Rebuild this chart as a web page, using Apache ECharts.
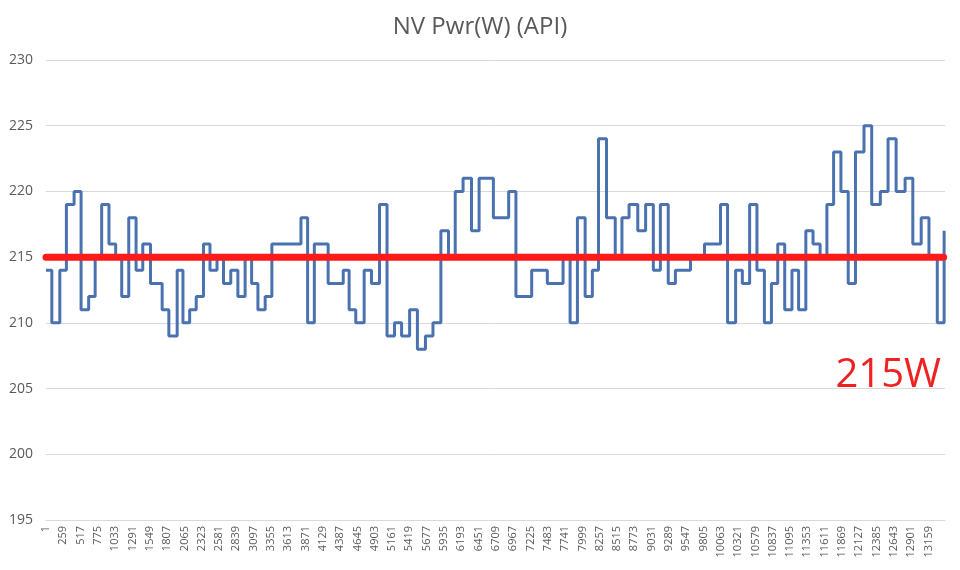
<!DOCTYPE html>
<html>
<head>
<meta charset="utf-8">
<script src="https://cdn.jsdelivr.net/npm/echarts@6/dist/echarts.min.js"></script>
<style>
html,body{margin:0;padding:0;background:#fff;}
#chart{width:960px;height:570px;}
</style>
</head>
<body>
<div id="chart"></div>
<script>
// Sample index at which each power level starts (step changes)
var stepStart = [0,87,206,304,419,523,636,733,830,939,1039,1129,1234,1343,1443,1558,1732,1832,1956,2042,2142,2240,2348,2445,2550,2647,2755,2861,2969,3066,3160,3268,3368,3802,3901,4001,4207,4432,4520,4619,4744,4853,4973,5085,5197,5302,5422,5538,5658,5770,5888,6002,6102,6219,6345,6458,6671,6899,7007,7242,7475,7710,7815,7924,8039,8147,8238,8358,8488,8588,8694,8824,8941,9056,9161,9278,9385,9610,9819,10058,10163,10283,10383,10492,10601,10712,10817,10911,11015,11123,11222,11330,11437,11543,11644,11744,11853,11962,12070,12197,12312,12441,12556,12676,12810,12925,13050,13166,13290,13392];
// Power (W) held from each step start
var power = [214,210,214,219,220,211,212,215,219,216,215,212,218,214,216,213,211,209,214,210,211,212,216,214,215,213,214,212,215,213,211,212,216,218,210,216,213,214,211,210,214,213,219,209,210,209,211,208,209,210,217,215,220,221,217,221,218,220,212,214,213,215,210,218,212,214,224,218,215,218,219,217,219,214,219,213,214,215,216,219,210,214,213,219,214,210,213,216,211,214,211,217,216,215,219,223,220,213,223,225,219,220,224,220,221,216,218,215,210,217];
var refLevel = 215;
var refLabel = '215W';
var xMax = 13405;
var labelStep = 258;
var yTicks = {min: 195, max: 230, step: 5};

var stepData = stepStart.map(function (s, i) { return [s, power[i]]; });
var refData = [[0, refLevel], [xMax - 20, refLevel]];

var chart = echarts.init(document.getElementById('chart'), null, {renderer: 'canvas'});
var font = '"Open Sans", "Noto Sans", sans-serif';
chart.setOption({
  animation: false,
  backgroundColor: '#ffffff',
  title: {
    text: 'NV Pwr(W) (API)',
    left: 'center',
    top: 10,
    textStyle: {fontFamily: font, fontSize: 24, fontWeight: 'normal', color: '#595959'}
  },
  grid: {left: 46, right: 15, top: 60, bottom: 50, containLabel: false},
  xAxis: {
    type: 'value',
    min: 0,
    max: xMax,
    interval: labelStep,
    axisLine: {show: true, lineStyle: {color: '#d9d9d9', width: 1}},
    axisTick: {show: false},
    splitLine: {show: false},
    axisLabel: {
      rotate: 90,
      fontFamily: font,
      fontSize: 11,
      color: '#595959',
      margin: 6,
      showMaxLabel: false,
      formatter: function (v) { return (v % labelStep === 0) ? String(v + 1) : ''; }
    }
  },
  yAxis: {
    type: 'value',
    min: yTicks.min,
    max: yTicks.max,
    interval: yTicks.step,
    axisLine: {show: false},
    axisTick: {show: false},
    splitLine: {show: true, lineStyle: {color: '#d9d9d9', width: 1}},
    axisLabel: {fontFamily: font, fontSize: 14, color: '#595959', margin: 13}
  },
  series: [
    {
      type: 'line',
      data: stepData,
      step: 'end',
      showSymbol: false,
      symbol: 'none',
      lineStyle: {color: '#4a72b0', width: 3},
      z: 2
    },
    {
      type: 'line',
      data: refData,
      showSymbol: false,
      symbol: 'none',
      lineStyle: {color: '#ff1a1a', width: 7, cap: 'round'},
      z: 3
    }
  ],
  graphic: [
    {
      type: 'text',
      right: 19,
      top: 356,
      style: {text: refLabel, fontFamily: font, fontSize: 40, fill: '#ee2222'}
    }
  ]
});
</script>
</body>
</html>
